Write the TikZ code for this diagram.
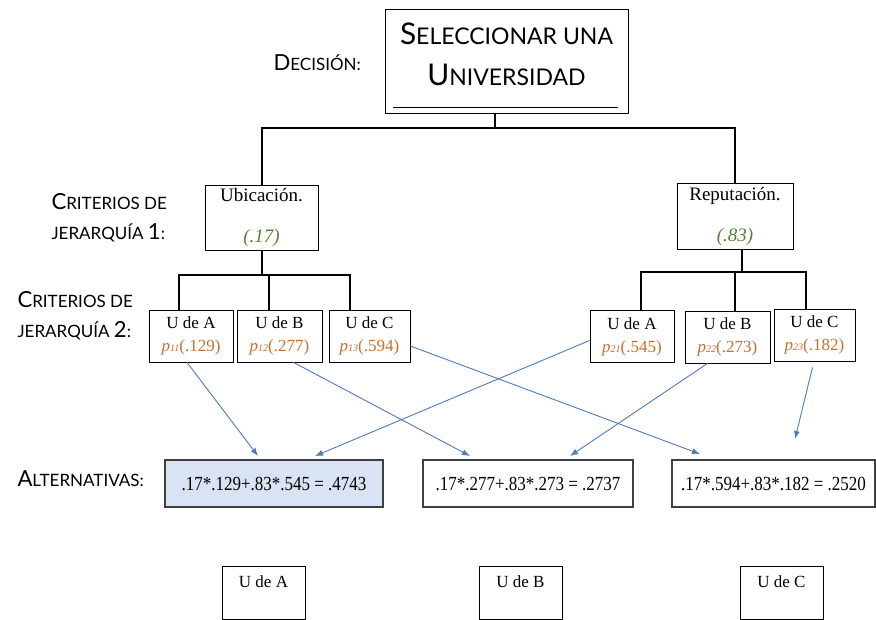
\documentclass[tikz,border=0pt]{standalone}
\usepackage{fontspec}
\usepackage{graphicx}
\setmainfont{Liberation Serif}
\newfontfamily\scfont{Lato}
\newfontfamily\formfont{Liberation Serif}[FakeStretch=0.85]
\usetikzlibrary{arrows.meta}
\definecolor{arrowblue}{RGB}{79,123,189}
\definecolor{pbrown}{RGB}{197,112,45}
\definecolor{wgreen}{RGB}{84,130,53}
\definecolor{altfill}{RGB}{218,227,243}
\newcommand\capbig[1]{\scalebox{1.3}{#1}}
\newcommand\pw[2]{\textcolor{pbrown}{\textit{p}{\fontsize{10}{10}\selectfont\textit{#1}}(#2)}}
\begin{document}
\begin{tikzpicture}[x=1pt, y=-1pt, >={Latex[length=8pt,width=6pt]}]
        \tikzstyle{lbl} = [font=\scfont\fontsize{17}{30}\selectfont, align=left, anchor=west]
        \tikzstyle{crit} = [draw, rectangle, line width=0.8pt, inner sep=0pt, font=\fontsize{19}{23}\selectfont, align=center]
        \tikzstyle{sub} = [draw, rectangle, line width=0.8pt, inner sep=0pt, font=\fontsize{17}{23}\selectfont, align=center, minimum height=52pt]
        \tikzstyle{alt} = [draw=black!75, rectangle, line width=2pt, inner sep=0pt, font=\formfont\fontsize{20}{24}\selectfont, minimum height=47pt]
        \tikzstyle{final} = [draw, rectangle, line width=0.8pt, font=\fontsize{17}{20}\selectfont, minimum width=83pt, text height=12pt, text depth=23pt, inner xsep=0pt, inner ysep=9pt, anchor=north]
        \tikzstyle{tree} = [line width=2pt]
        \tikzstyle{link} = [->, arrowblue, line width=0.9pt]

        \useasboundingbox (0,0) rectangle (876,620);

        % decision
        \node [draw, line width=0.8pt, minimum width=243pt, minimum height=104pt] (dec) at (506.5,61) {};
        \node [font=\scfont\fontsize{23}{41}\selectfont, align=center] (dectxt) at (506.5,54.5) {%
          \capbig{S}ELECCIONAR UNA\\
          \capbig{U}NIVERSIDAD
        };
        \draw [line width=0.8pt] ([shift={(8,-6)}]dec.south west) -- ([shift={(-10,-6)}]dec.south east);
        \node [lbl] (decl) at (270,63) {\capbig{D}ECISIÓN:};

        % criterios 1
        \node [crit, minimum width=113pt, minimum height=65pt] (ubi) at (261.5,217.5) {%
          Ubicación.\\[18pt]
          \textcolor{wgreen}{\textit{(.17)}}
        };
        \node [crit, minimum width=116pt, minimum height=66pt] (rep) at (735,216) {%
          Reputación.\\[18pt]
          \textcolor{wgreen}{\textit{(.83)}}
        };
        \node [lbl] (crit1) at (48,218) {\capbig{C}RITERIOS DE\\JERARQUÍA \capbig{1}:};

        % criterios 2
        \node [sub, minimum width=84pt] (la) at (191,336) {U de A\\\pw{11}{.129}};
        \node [sub, minimum width=85pt] (lb) at (279.5,336) {U de B\\\pw{12}{.277}};
        \node [sub, minimum width=81pt] (lc) at (369.5,336) {U de C\\\pw{13}{.594}};
        \node [sub, minimum width=84pt] (ra) at (632,336.5) {U de A\\\pw{21}{.545}};
        \node [sub, minimum width=85pt] (rb) at (727.5,337) {U de B\\\pw{22}{.273}};
        \node [sub, minimum width=81pt] (rc) at (814.5,335) {U de C\\\pw{23}{.182}};
        \node [lbl] (crit2) at (14,316) {\capbig{C}RITERIOS DE\\JERARQUÍA \capbig{2}:};

        % alternativas
        \node [alt, fill=altfill, minimum width=218pt] (al1) at (274,483.5) {.17*.129+.83*.545 = .4743};
        \node [alt, minimum width=210pt] (al2) at (528,483.5) {.17*.277+.83*.273 = .2737};
        \node [alt, minimum width=203pt] (al3) at (773.5,483.5) {.17*.594+.83*.182 = .2520};
        \node [lbl] (altl) at (14,479) {\capbig{A}LTERNATIVAS:};

        \node [final] (ua) at (263.5,566) {U de A};
        \node [final] (ub) at (520.5,566) {U de B};
        \node [final] (uc) at (781.5,566) {U de C};

        % tree
        \coordinate (j0) at (495,128);
        \coordinate (j1) at (262,275);
        \coordinate (j2) at (742,272);
        \draw [tree] (j0 |- dec.south) -- (j0);
        \draw [tree] (ubi.north) |- (j0) -| (rep.north);
        \draw [tree] (ubi.south) -- (ubi.south |- j1);
        \draw [tree] ([xshift=-12pt]la.north) |- (j1) -| ([xshift=-19.5pt]lc.north);
        \draw [tree] ([xshift=-10.5pt]lb.north) -- ++(0,-35);
        \draw [tree] (rep.south -| j2) -- (j2);
        \draw [tree] ([xshift=9pt]ra.north) |- (j2) -| ([xshift=-8.5pt]rc.north);
        \draw [tree] ([xshift=7.5pt]rb.north) -- ++(0,-39);

        % weights
        \draw [link] ([xshift=-4pt]la.south) -- ([xshift=-16pt,yshift=3pt]al1.north);
        \draw [link] ([yshift=-4pt]ra.west) -- ([xshift=41pt,yshift=3pt]al1.north);
        \draw [link] ([xshift=14pt]lb.south) -- ([xshift=-58pt,yshift=3pt]al2.north);
        \draw [link] ([xshift=-20pt]rb.south) -- ([xshift=42pt,yshift=3pt]al2.north);
        \draw [link] ([yshift=-10pt]lc.east) -- ([xshift=-73.5pt,yshift=5pt]al3.north);
        \draw [link] ([xshift=-2pt,yshift=-6pt]rc.south) -- ([xshift=21.5pt,yshift=20pt]al3.north);
    \end{tikzpicture}
\end{document}
